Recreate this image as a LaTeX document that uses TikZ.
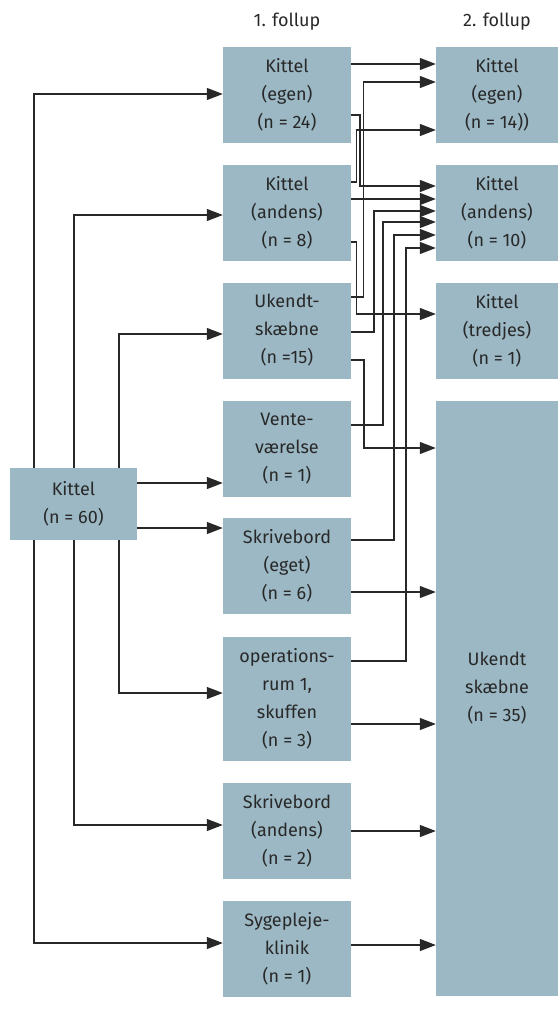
\documentclass[tikz,border=0pt]{standalone}
\usepackage{fontspec}
\setmainfont{Fira Sans}
\usetikzlibrary{arrows.meta}
\definecolor{boxfill}{RGB}{155,184,196}
\definecolor{ink}{RGB}{40,40,40}
\begin{document}
\begin{tikzpicture}[x=1pt,y=-1pt,
  every node/.style={font=\fontsize{18}{28}\selectfont, text=ink, align=center, inner sep=0pt},
  boxm/.style={fill=boxfill, minimum width=128pt, minimum height=96pt},
  boxr/.style={fill=boxfill, minimum width=122pt, minimum height=96pt},
  conn/.style={draw=ink, line width=1.2pt},
  arr/.style={conn, -{Triangle[length=16pt,width=12pt]}}]
\useasboundingbox (0,0) rectangle (558,1017);
% headers
\node (h1) at (287,22) {1. follup};
\node (h2) at (497,22) {2. follup};
% left
\node[fill=boxfill, minimum width=127pt, minimum height=72pt] (L) at (73.5,504) {Kittel\\(n = 60)};
% middle column
\node[boxm] (m1) at (287,95) {Kittel\\(egen)\\(n = 24)};
\node[boxm] (m2) at (287,212.5) {Kittel\\(andens)\\(n = 8)};
\node[boxm] (m3) at (287,330.5) {Ukendt-\\skæbne\\(n =15)};
\node[boxm] (m4) at (287,448.5) {Vente-\\værelse\\(n = 1)};
\node[boxm] (m5) at (287,565.5) {Skrivebord\\(eget)\\(n = 6)};
\node[boxm, minimum height=124pt] (m6) at (287,699) {operations-\\rum 1,\\skuffen\\(n = 3)};
\node[boxm] (m7) at (287,830.5) {Skrivebord\\(andens)\\(n = 2)};
\node[boxm] (m8) at (287,948.5) {Sygepleje-\\klinik\\(n = 1)};
% right column
\node[boxr] (r1) at (497,95) {Kittel\\(egen)\\(n = 14))};
\node[boxr] (r2) at (497,212.5) {Kittel\\(andens)\\(n = 10)};
\node[boxr] (r3) at (497,330.5) {Kittel\\(tredjes)\\(n = 1)};
\node[boxr, minimum height=595pt, text depth=24pt] (r4) at (497,698.5) {Ukendt\\skæbne\\(n = 35)};
% left connectors
\draw[arr] (L.north -| 34,0) |- (m1.west |- 0,94);
\draw[arr] (L.south -| 34,0) |- (m8.west |- 0,943);
\draw[arr] (L.north -| 74,0) |- (m2.west |- 0,215);
\draw[arr] (L.south -| 74,0) |- (m7.west |- 0,825);
\draw[arr] (L.north -| 119,0) |- (m3.west |- 0,334);
\draw[arr] (L.south -| 119,0) |- (m6.west |- 0,693);
\draw[arr] (L.east |- 0,483) -- (m4.west |- 0,483);
\draw[arr] (L.east |- 0,528) -- (m5.west |- 0,528);
% middle to right connectors
\draw[arr] (m1.east |- 0,64) -- (r1.west |- 0,64);
\draw[arr] (m1.east |- 0,115) -- (360,115) |- (r2.west |- 0,186);
\draw[arr] (m2.east |- 0,182) -- (356.5,182) |- (r1.west |- 0,130);
\draw[arr] (m2.east |- 0,199) -- (r2.west |- 0,199);
\draw[arr] (m2.east |- 0,242) -- (356.5,242) |- (r3.west |- 0,314);
\draw[arr] (m3.east |- 0,297) -- (363.5,297) |- (r1.west |- 0,82);
\draw[arr] (m3.east |- 0,332) -- (374,332) |- (r2.west |- 0,211);
\draw[arr] (m3.east |- 0,360) -- (364,360) |- (r4.west |- 0,448);
\draw[arr] (m4.east |- 0,425) -- (383,425) |- (r2.west |- 0,222);
\draw[arr] (m5.east |- 0,540) -- (394,540) |- (r2.west |- 0,235);
\draw[arr] (m5.east |- 0,592) -- (r4.west |- 0,592);
\draw[arr] (m6.east |- 0,661) -- (406,661) |- (r2.west |- 0,248);
\draw[arr] (m6.east |- 0,724) -- (r4.west |- 0,724);
\draw[arr] (m7.east |- 0,831) -- (r4.west |- 0,831);
\draw[arr] (m8.east |- 0,945) -- (r4.west |- 0,945);
\end{tikzpicture}
\end{document}
